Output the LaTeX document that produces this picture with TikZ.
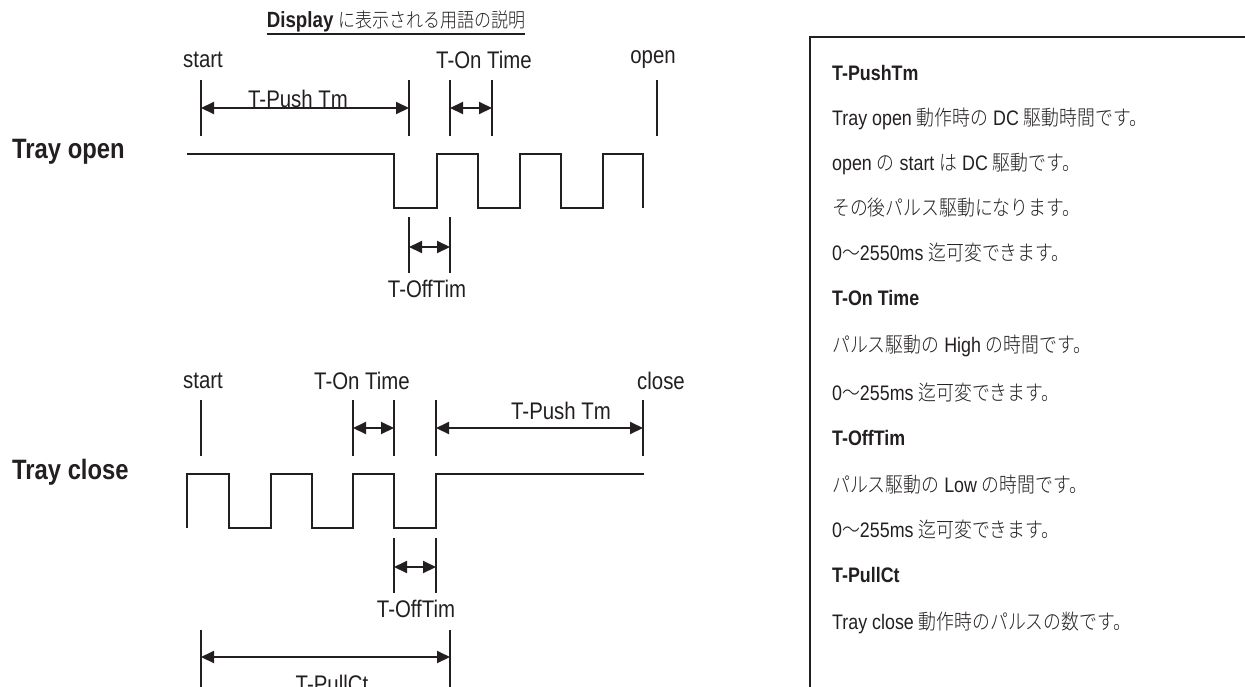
\documentclass[tikz,border=0pt]{standalone}
\usepackage{fontspec}
\setmainfont{Liberation Sans}[FakeStretch=0.85]
\newfontfamily\jp{Noto Sans CJK JP}[FakeStretch=0.85, UprightFont=* Light]
\usetikzlibrary{arrows.meta}
\definecolor{ink}{RGB}{35,31,32}
\newcommand{\J}[1]{{\jp #1}}
\begin{document}
\begin{tikzpicture}[x=1pt,y=-1pt,
  lbl/.style={font=\fontsize{24}{28}\selectfont, text=ink, inner sep=0pt},
  rowlbl/.style={font=\fontsize{28}{32}\selectfont\bfseries, text=ink, anchor=west, inner sep=0pt},
  boxt/.style={font=\fontsize{21}{24}\selectfont, text=ink, anchor=base west, inner sep=0pt},
  boxh/.style={font=\fontsize{21}{24}\selectfont\bfseries, text=ink, anchor=base west, inner sep=0pt},
  wave/.style={line width=2pt, draw=ink, line join=miter},
  tickln/.style={line width=2pt, draw=ink},
  dim/.style={line width=2pt, draw=ink, fill=ink, {Triangle[length=13pt,width=12pt]}-{Triangle[length=13pt,width=12pt]}},
  frame/.style={line width=2.5pt, draw=ink}]
\useasboundingbox (0,0) rectangle (1245,686);
\clip (0,0) rectangle (1245,686);

% title
\node[inner xsep=0pt, inner ysep=2pt, text=ink, anchor=base, font=\fontsize{20}{24}\selectfont] (title) at (396,27)
  {{\fontsize{22}{24}\selectfont\bfseries Display} \J{に表示される用語の説明}};
\draw[line width=1.5pt, draw=ink] (title.south west) -- (title.south east);

% ---------------- Tray open ----------------
\node[rowlbl] (rowopen) at (12,152) {Tray open};
\node[lbl] (os) at (203,60) {start};
\node[lbl] (oon) at (484,60) {T-On Time};
\node[lbl] (oop) at (653,60) {open};

\foreach \n/\x in {a/201,b/409,c/450,d/492,e/657}{
  \coordinate (ot\n) at (\x,80);
  \coordinate (ob\n) at (\x,136);
  \draw[tickln] (ot\n) -- (ob\n);
}
\coordinate (oPa) at (201,108); \coordinate (oPb) at (409,108);
\draw[dim] (oPa) -- (oPb);
\node[lbl, anchor=base] (opush) at (298,107) {T-Push Tm};
\coordinate (oOa) at (450,108); \coordinate (oOb) at (492,108);
\draw[dim] (oOa) -- (oOb);

\draw[wave] (187,154) -- (394,154) -- (394,208) -- (437,208) -- (437,154) -- (478,154)
  -- (478,208) -- (520,208) -- (520,154) -- (561,154) -- (561,208) -- (603,208)
  -- (603,154) -- (643,154) -- (643,208);

\foreach \n/\x in {a/409,b/450}{
  \coordinate (oft\n) at (\x,217);
  \coordinate (ofb\n) at (\x,273);
  \draw[tickln] (oft\n) -- (ofb\n);
}
\coordinate (oFa) at (409,247); \coordinate (oFb) at (450,247);
\draw[dim] (oFa) -- (oFb);
\node[lbl] (ooff) at (427,289) {T-OffTim};

% ---------------- Tray close ----------------
\node[rowlbl] (rowclose) at (12,472) {Tray close};
\node[lbl] (cs) at (203,381) {start};
\node[lbl] (con) at (362,381) {T-On Time};
\node[lbl] (ccl) at (661,381) {close};

\foreach \n/\x in {a/201,b/353,c/394,d/436,e/643}{
  \coordinate (ct\n) at (\x,400);
  \coordinate (cb\n) at (\x,456);
  \draw[tickln] (ct\n) -- (cb\n);
}
\coordinate (cOa) at (353,428); \coordinate (cOb) at (394,428);
\draw[dim] (cOa) -- (cOb);
\coordinate (cPa) at (436,428); \coordinate (cPb) at (643,428);
\draw[dim] (cPa) -- (cPb);
\node[lbl, anchor=base] (cpush) at (561,419) {T-Push Tm};

\draw[wave] (187,528) -- (187,474) -- (229,474) -- (229,528) -- (271,528) -- (271,474)
  -- (312,474) -- (312,528) -- (353,528) -- (353,474) -- (394,474) -- (394,528)
  -- (436,528) -- (436,474) -- (644,474);

\foreach \n/\x in {a/394,b/436}{
  \coordinate (cft\n) at (\x,538);
  \coordinate (cfb\n) at (\x,593);
  \draw[tickln] (cft\n) -- (cfb\n);
}
\coordinate (cFa) at (394,567); \coordinate (cFb) at (436,567);
\draw[dim] (cFa) -- (cFb);
\node[lbl] (coff) at (416,609) {T-OffTim};

\foreach \n/\x in {a/201,b/450}{
  \coordinate (cpt\n) at (\x,630);
  \coordinate (cpb\n) at (\x,700);
  \draw[tickln] (cpt\n) -- (cpb\n);
}
\coordinate (cLa) at (201,657); \coordinate (cLb) at (450,657);
\draw[dim] (cLa) -- (cLb);
\node[lbl, anchor=base] (cpull) at (332,692) {T-PullCt};

% ---------------- explanation box ----------------
\coordinate (bxb) at (810,700);
\coordinate (bxt) at (810,37);
\coordinate (bxr) at (1260,37);
\draw[frame] (bxb) -- (bxt) -- (bxr);

\node[boxh] (h1) at (832,80) {T-PushTm};
\node[boxt] (t1) at (832,125) {Tray open \J{動作時の} DC \J{駆動時間です。}};
\node[boxt] (t2) at (832,170) {open \J{の} start \J{は} DC \J{駆動です。}};
\node[boxt] (t3) at (832,215) {\J{その後パルス駆動になります。}};
\node[boxt] (t4) at (832,260) {0\J{〜}2550ms \J{迄可変できます。}};
\node[boxh] (h2) at (832,305) {T-On Time};
\node[boxt] (t5) at (832,352) {\J{パルス駆動の} High \J{の時間です。}};
\node[boxt] (t6) at (832,400) {0\J{〜}255ms \J{迄可変できます。}};
\node[boxh] (h3) at (832,445) {T-OffTim};
\node[boxt] (t7) at (832,492) {\J{パルス駆動の} Low \J{の時間です。}};
\node[boxt] (t8) at (832,537) {0\J{〜}255ms \J{迄可変できます。}};
\node[boxh] (h4) at (832,582) {T-PullCt};
\node[boxt] (t9) at (832,629) {Tray close \J{動作時のパルスの数です。}};
\end{tikzpicture}
\end{document}
